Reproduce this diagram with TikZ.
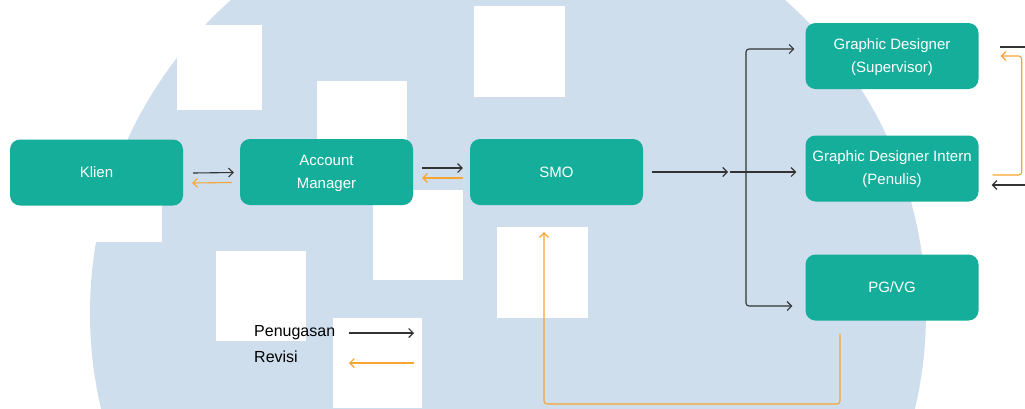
\documentclass[tikz,border=0pt]{standalone}
\usepackage{fontspec}
\setmainfont{Liberation Sans}
\usetikzlibrary{arrows.meta}
\definecolor{teal}{HTML}{14AE9A}
\definecolor{mist}{HTML}{CEDEED}
\definecolor{revise}{HTML}{F7A533}
\definecolor{ink}{HTML}{333333}
\tikzset{
  stage/.style={fill=teal, rounded corners=10pt, minimum width=173pt, minimum height=66pt,
    text=white, align=center, font=\fontsize{15}{23}\selectfont, inner sep=0pt},
  tip/.style={-{Straight Barb[length=4.5pt,width=9pt]}},
  pen/.style={draw=ink, line width=1.1pt, tip},
  rev/.style={draw=revise, line width=1.1pt, tip},
  legend/.style={anchor=west, font=\fontsize{16}{18}\selectfont, text=black, inner sep=0pt},
  blank/.style={fill=white}
}
\begin{document}
\begin{tikzpicture}[x=1pt, y=-1pt]
\useasboundingbox (0,0) rectangle (1025,408);

% background emblem: a disc with white blocks cut out
\begin{scope}
  \clip (0,0) rectangle (1025,408);
  \fill[mist] (508,313) circle (418);
  \fill[blank] (177,25) rectangle (262,110);
  \fill[blank] (317,81) rectangle (407,150);
  \fill[blank] (474,6) rectangle (565,97);
  \fill[blank] (373,190) rectangle (463,280);
  \fill[blank] (497,227) rectangle (588,318);
  \fill[blank] (216,251) rectangle (306,341);
  \fill[blank] (333,318) rectangle (422,408);
  \fill[blank] (40,150) rectangle (162,242);
\end{scope}

% stages
\node[stage] (klien) at (96.5,172.5) {Klien};
\node[stage] (am) at (326.5,172) {\strut Account\\\strut Manager};
\node[stage] (smo) at (556.5,172) {SMO};
\node[stage] (gds) at (892,56) {\strut Graphic Designer\\\strut (Supervisor)};
\node[stage] (gdi) at (892,168.5) {\strut Graphic Designer Intern\\\strut (Penulis)};
\node[stage] (pgvg) at (892,287.5) {PG/VG};

% client <-> account manager
\draw[pen] ([xshift=10pt,yshift=-0.5pt]klien.east) -- ([xshift=-6pt,yshift=-0.5pt]am.west);
\draw[rev] ([xshift=-8pt,yshift=-10.5pt]am.west) -- ([xshift=9pt,yshift=-10.5pt]klien.east);

% account manager <-> SMO
\draw[pen] ([xshift=9pt,yshift=4pt]am.east) -- ([xshift=-7pt,yshift=4pt]smo.west);
\draw[rev] ([xshift=-7pt,yshift=-6pt]smo.west) -- ([xshift=9pt,yshift=-6pt]am.east);

% SMO to the design team
\coordinate (j) at (746,172);
\draw[pen] ([xshift=9pt]smo.east) -- ([xshift=-18pt]j);
\draw[pen] ([xshift=-16pt]j) -- ([xshift=-9pt,yshift=-3.5pt]gdi.west);
\draw[pen, rounded corners=3pt] (j) |- ([xshift=-11pt,yshift=7pt]gds.west);
\draw[pen, rounded corners=3pt] (j) |- ([xshift=-13pt,yshift=-18.5pt]pgvg.west);

% right-hand links
\coordinate (outA) at (1026,47);
\coordinate (inB) at (1026,185);
\draw[draw=ink, line width=1.1pt] ([xshift=21pt,yshift=9pt]gds.east) -- (outA);
\draw[pen] (inB) -- ([xshift=13pt,yshift=-16.5pt]gdi.east);
\draw[rev, rounded corners=3pt] ([xshift=14pt,yshift=-6.5pt]gdi.east) -| ([xshift=43pt]gds.east) -- ([xshift=22pt]gds.east);

% revision back to SMO
\coordinate (rv) at (544,404);
\draw[rev, rounded corners=3pt] ([xshift=-52pt,yshift=-13pt]pgvg.south) |- (rv) -- ([xshift=-12.5pt,yshift=-27pt]smo.south);

% legend
\node[legend] (lp) at (254,333) {Penugasan};
\node[legend] (lr) at (254,357) {Revisi};
\coordinate (lpA) at (349,333);
\coordinate (lpB) at (414,333);
\coordinate (lrA) at (414,363);
\coordinate (lrB) at (349,363);
\draw[pen] (lpA) -- (lpB);
\draw[rev] (lrA) -- (lrB);
\end{tikzpicture}
\end{document}
